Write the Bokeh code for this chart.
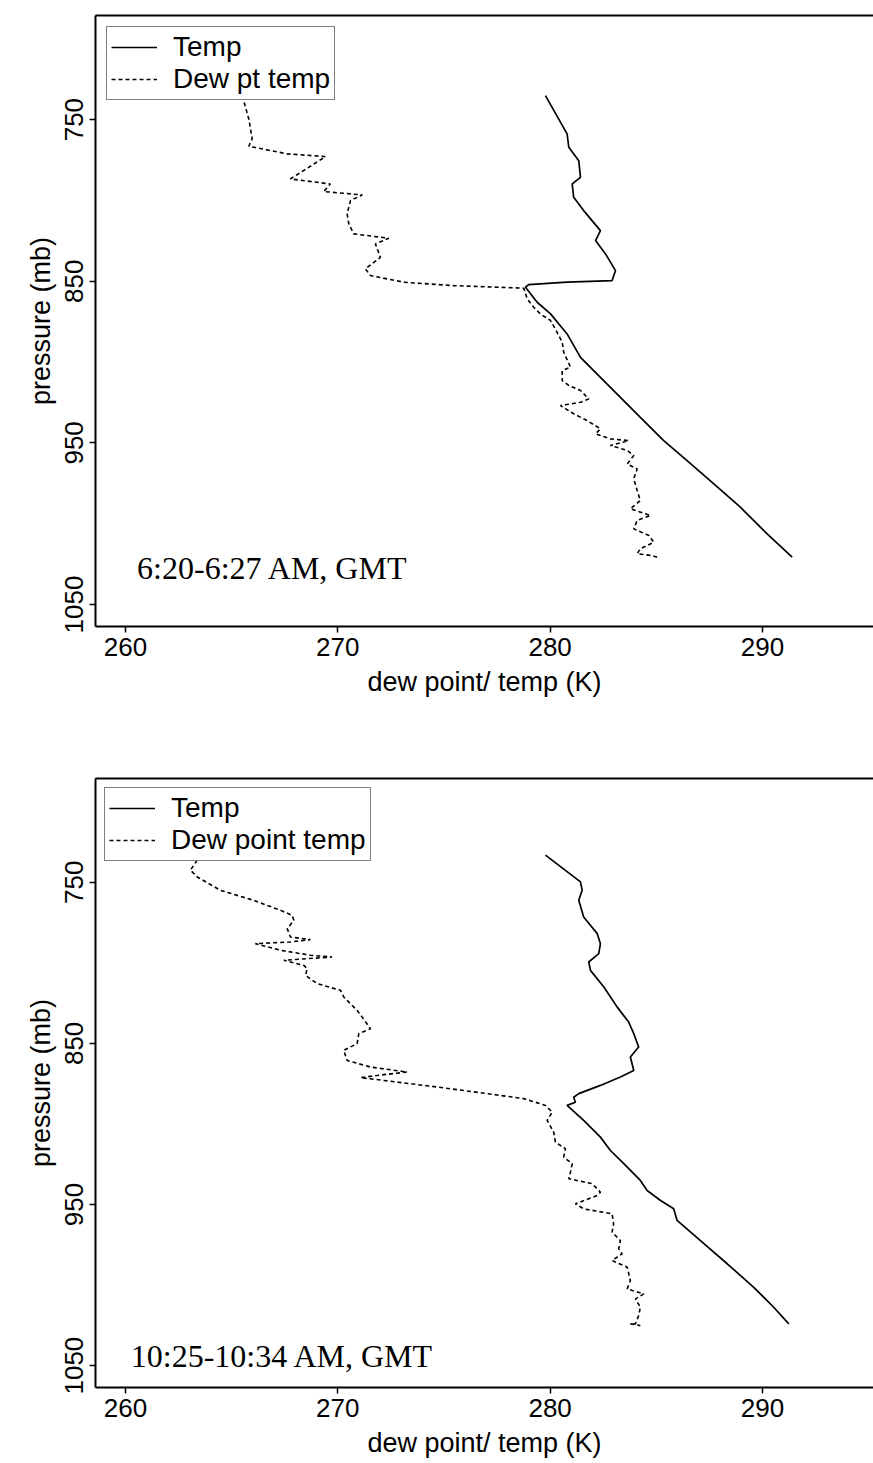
from bokeh.plotting import figure
from bokeh.models import Range1d, FixedTicker, LinearAxis, Label
from bokeh.layouts import column
from bokeh.embed import file_html
from bokeh.resources import INLINE

# ---- Sounding 1 (6:20-6:27 AM, GMT) ----
early_temp_k = [279.78, 280.80, 280.88, 281.35, 281.43, 281.04, 281.11, 281.58,
                282.37, 282.14, 282.61, 283.08, 282.92, 280.80, 278.99, 278.84,
                279.39, 280.02, 280.80, 281.43, 282.37, 283.31, 284.25, 285.35,
                286.45, 287.71, 288.96, 290.22, 291.40]
early_temp_mb = [735.2, 758.8, 767.1, 775.4, 785.7, 789.8, 798.1, 806.3,
                 818.7, 824.8, 833.1, 843.4, 849.6, 850.6, 852.1, 853.7,
                 863.0, 870.2, 882.6, 897.1, 909.5, 921.8, 934.2, 948.6,
                 961.0, 975.3, 989.8, 1006.3, 1020.7]
early_dew_k = [265.50, 265.81, 265.97, 265.81, 267.62, 269.42, 267.77, 269.65,
               269.34, 271.15, 270.60, 270.44, 270.52, 270.75, 272.40, 271.77,
               272.01, 271.30, 271.54, 273.11, 275.46, 278.76, 278.92, 279.23,
               279.54, 280.02, 280.33, 280.57, 280.64, 280.96, 280.57, 280.57,
               280.88, 281.43, 281.82, 281.43, 280.49, 281.11, 281.74, 282.37,
               282.14, 282.84, 283.70, 282.84, 283.63, 283.94, 283.63, 284.10,
               283.94, 284.10, 284.25, 283.78, 284.73, 284.10, 283.94, 284.65,
               284.88, 284.25, 284.10, 284.80, 285.04]
early_dew_mb = [735.2, 749.6, 761.9, 766.5, 771.2, 772.9, 786.7, 789.8,
                794.5, 796.6, 800.1, 808.3, 814.5, 820.7, 823.4, 826.9,
                835.2, 842.3, 846.5, 850.6, 852.7, 854.3, 860.9, 866.1,
                870.2, 874.3, 881.6, 887.7, 893.9, 903.2, 905.3, 911.4,
                914.5, 917.6, 922.8, 924.9, 926.9, 932.0, 936.2, 941.3,
                944.4, 947.5, 948.6, 951.6, 954.7, 957.8, 963.0, 966.1,
                972.2, 979.5, 985.7, 990.8, 994.9, 998.0, 1003.2, 1007.3,
                1011.5, 1015.5, 1018.6, 1019.7, 1020.7]

# ---- Sounding 2 (10:25-10:34 AM, GMT) ----
late_temp_k = [279.78, 281.43, 281.51, 281.35, 281.58, 282.22, 282.37, 282.29,
               281.82, 281.90, 282.53, 283.16, 283.70, 283.94, 284.17, 283.78,
               283.94, 283.31, 282.37, 281.35, 281.11, 281.19, 280.80, 281.58,
               282.37, 282.84, 283.47, 284.25, 284.57, 285.20, 285.82, 285.98,
               287.08, 288.34, 289.59, 290.53, 291.24]
late_temp_mb = [733.2, 749.8, 755.0, 761.2, 771.6, 781.9, 788.1, 794.3,
                799.5, 804.7, 815.0, 827.5, 836.8, 844.0, 852.3, 858.5,
                866.8, 870.9, 876.1, 881.2, 883.4, 886.5, 888.5, 897.8,
                908.2, 916.5, 924.7, 935.1, 941.3, 947.5, 952.7, 959.9,
                972.4, 986.8, 1001.4, 1013.8, 1024.1]
late_dew_k = [263.14, 263.38, 263.06, 263.38, 264.47, 266.04, 267.30, 267.85,
              267.93, 267.62, 267.77, 268.71, 267.77, 266.12, 267.30, 268.71,
              269.73, 267.46, 268.40, 268.56, 268.48, 269.03, 270.13, 270.28,
              270.91, 271.15, 271.54, 270.99, 270.91, 270.28, 270.44, 271.54,
              273.27, 271.85, 271.07, 272.17, 274.68, 277.04, 278.76, 279.78,
              280.10, 279.86, 280.17, 280.25, 280.72, 280.64, 281.04, 280.96,
              280.88, 281.98, 282.37, 282.22, 281.19, 281.58, 282.92, 282.99,
              282.92, 283.31, 283.23, 283.39, 282.92, 283.63, 283.78, 283.63,
              284.41, 284.02, 284.25, 284.17, 284.02, 283.78, 284.25]
late_dew_mb = [733.2, 736.3, 742.5, 746.7, 755.0, 761.2, 767.4, 770.5,
               773.6, 778.8, 784.0, 785.6, 787.1, 788.1, 792.2, 795.3,
               796.4, 798.4, 801.6, 803.6, 807.8, 812.9, 817.1, 821.2,
               829.5, 833.7, 840.9, 844.0, 850.2, 854.3, 860.6, 864.7,
               867.8, 869.9, 871.3, 873.0, 877.1, 881.2, 884.3, 888.5,
               892.7, 897.8, 905.1, 911.3, 915.4, 920.6, 924.7, 929.9,
               934.0, 937.1, 942.4, 944.4, 949.6, 952.7, 955.8, 962.0,
               967.2, 972.4, 977.5, 980.6, 984.8, 988.9, 997.2, 1002.4,
               1005.5, 1008.6, 1013.8, 1019.0, 1024.1, 1024.1, 1025.2]

x_ticks = [260, 270, 280, 290]
y_ticks = [750, 850, 950, 1050]
x_title = "dew point/ temp (K)"
y_title = "pressure (mb)"

SANS = "Liberation Sans"
SERIF = "Liberation Serif"


def style_axis(ax):
    ax.axis_line_width = 2
    ax.axis_line_color = "black"
    ax.major_tick_in = 0
    ax.major_tick_out = 6
    ax.major_tick_line_width = 1.5
    ax.major_tick_line_color = "black"
    ax.minor_tick_line_color = None
    ax.major_label_text_font = SANS
    ax.major_label_text_font_size = "26px"
    ax.major_label_text_color = "black"
    ax.axis_label_text_font = SANS
    ax.axis_label_text_font_size = "27px"
    ax.axis_label_text_font_style = "normal"
    ax.axis_label_text_color = "black"


def panel(temp_k, temp_mb, dew_k, dew_mb, dew_label, note, note_x, note_y,
          height, top, bottom, legend_margin):
    p = figure(width=873, height=height, output_backend="svg",
               toolbar_location=None,
               x_range=Range1d(258.59, 295.23),
               y_range=Range1d(1063.6, 685.6),
               min_border_left=95, min_border_right=0,
               min_border_top=top, min_border_bottom=bottom)
    p.outline_line_color = None
    p.grid.grid_line_color = None
    p.background_fill_color = "white"
    p.border_fill_color = "white"

    p.xaxis.ticker = FixedTicker(ticks=x_ticks)
    p.yaxis.ticker = FixedTicker(ticks=y_ticks)
    p.xaxis.axis_label = x_title
    p.yaxis.axis_label = y_title
    style_axis(p.xaxis[0])
    style_axis(p.yaxis[0])
    p.xaxis.major_label_standoff = 5
    p.xaxis.axis_label_standoff = 8
    p.yaxis.major_label_orientation = "vertical"
    p.yaxis.major_label_standoff = 6
    p.yaxis.axis_label_standoff = 7

    # top edge of the frame (no ticks, no labels)
    top_edge = LinearAxis(ticker=FixedTicker(ticks=[]),
                          major_label_text_font_size="0px",
                          axis_line_width=2, axis_line_color="black",
                          major_tick_line_color=None,
                          minor_tick_line_color=None)
    p.add_layout(top_edge, "above")

    p.line(temp_k, temp_mb, line_color="black", line_width=1.7,
           legend_label="Temp")
    p.line(dew_k, dew_mb, line_color="black", line_width=1.6,
           line_dash="4 3", legend_label=dew_label)

    lg = p.legend[0]
    lg.location = "top_left"
    lg.margin = legend_margin
    lg.padding = 4
    lg.spacing = -12
    lg.glyph_width = 46
    lg.glyph_height = 14
    lg.label_height = 14
    lg.label_standoff = 16
    lg.label_text_font = SANS
    lg.label_text_font_size = "28px"
    lg.label_text_line_height = 0.7
    lg.label_text_color = "black"
    lg.border_line_color = "black"
    lg.border_line_width = 1.5
    lg.background_fill_alpha = 1.0

    p.add_layout(Label(x=note_x, y=note_y, text=note, text_font=SERIF,
                       text_font_size="32px", text_color="black",
                       text_baseline="alphabetic", text_align="left"))
    return p


p1 = panel(early_temp_k, early_temp_mb, early_dew_k, early_dew_mb,
           "Dew pt temp", "6:20-6:27 AM, GMT", 260.55, 1027.7,
           height=740, top=15, bottom=114, legend_margin=11)
p2 = panel(late_temp_k, late_temp_mb, late_dew_k, late_dew_mb,
           "Dew point temp", "10:25-10:34 AM, GMT", 260.25, 1043.8,
           height=723, top=38, bottom=76, legend_margin=9)

layout = column(p1, p2, spacing=0)
open("out.html", "w").write(file_html(layout, INLINE))
